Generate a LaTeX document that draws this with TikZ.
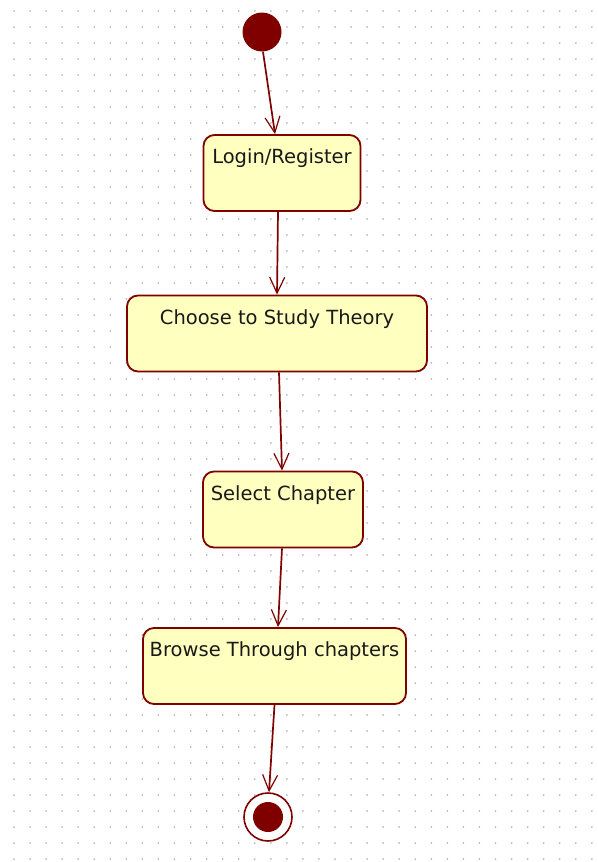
\documentclass[tikz,border=0pt]{standalone}
\usepackage{fontspec}
\setmainfont{DejaVu Sans}
\usetikzlibrary{arrows.meta}
\definecolor{umlline}{RGB}{128,0,0}
\definecolor{umlfill}{RGB}{255,255,192}
\definecolor{griddot}{RGB}{185,185,185}
\tikzset{
  statebox/.style={draw=umlline, fill=umlfill, line width=1.8pt,
    rounded corners=11pt, minimum height=76pt, inner sep=0pt},
  boxtext/.style={anchor=base, yshift=-29.5pt, font=\fontsize{19.5}{22}\selectfont,
    text=black!90, inner sep=0pt},
  flow/.style={draw=umlline, line width=1.7pt,
    -{Straight Barb[length=16pt, width=15pt, line width=1.2pt]}},
}
\begin{document}
\begin{tikzpicture}[x=1pt, y=-1pt]
  % canvas and dotted grid
  \fill[white] (0,0) rectangle (597,862);
  \useasboundingbox (0,0) rectangle (597,862);
  \foreach \i in {0,...,36}
    \foreach \j in {0,...,53}
      \fill[griddot] (14+16.05*\i, 11+16*\j) circle (1pt);

  % states
  \node[circle, fill=umlline, minimum size=39pt, inner sep=0pt] (init) at (262,32) {};
  \node[statebox, minimum width=157pt,
        label={[boxtext]north:Login/Register}] (login) at (282,173) {};
  \node[statebox, minimum width=300pt,
        label={[boxtext]north:Choose to Study Theory}] (choose) at (277,333.5) {};
  \node[statebox, minimum width=160pt,
        label={[boxtext]north:Select Chapter}] (select) at (283,509.5) {};
  \node[statebox, minimum width=263pt,
        label={[boxtext]north:Browse Through chapters}] (browse) at (274.5,666) {};
  \node[circle, draw=umlline, line width=1.6pt, fill=white,
        minimum size=48pt, inner sep=0pt] (final) at (268,817) {};
  \node[circle, fill=umlline, minimum size=30pt, inner sep=0pt] at (final.center) (finaldot) {};

  % transitions
  \draw[flow] ([xshift=1pt]init.south) -- ([xshift=-7pt]login.north);
  \draw[flow] ([xshift=-4pt]login.south) -- (choose.north);
  \draw[flow] ([xshift=2pt]choose.south) -- ([xshift=-1pt]select.north);
  \draw[flow] ([xshift=-1pt]select.south) -- ([xshift=3.5pt]browse.north);
  \draw[flow] (browse.south) -- ([xshift=1pt]final.north);
\end{tikzpicture}
\end{document}
